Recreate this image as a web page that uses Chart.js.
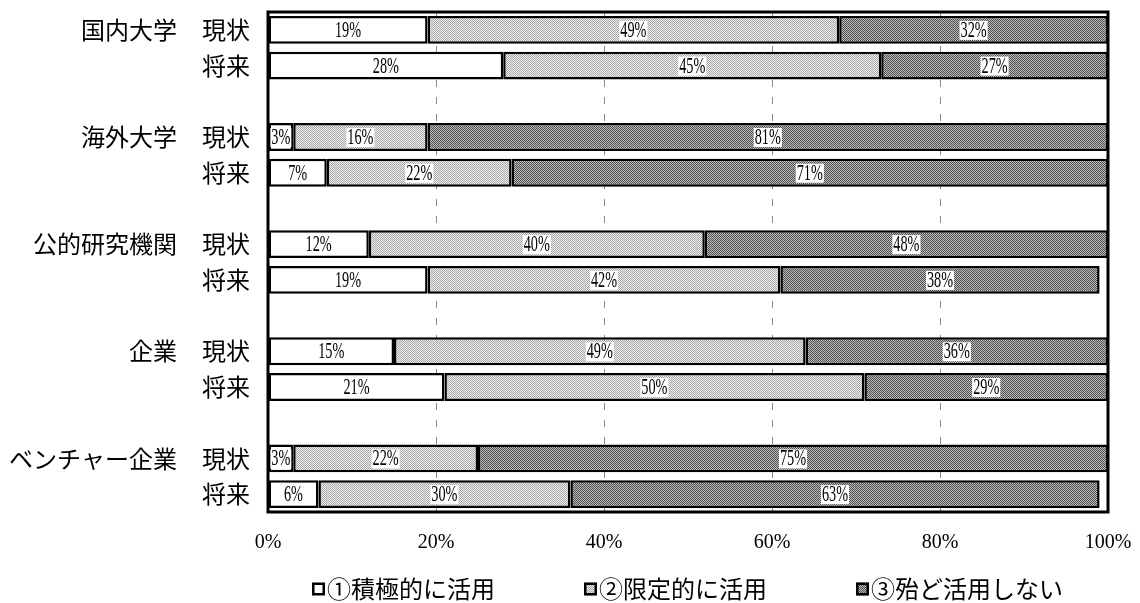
<!DOCTYPE html>
<html lang="ja">
<head>
<meta charset="utf-8">
<title>活用状況</title>
<script src="https://cdn.jsdelivr.net/npm/chart.js@4.4.1/dist/chart.umd.min.js"></script>
<style>
  html, body { margin: 0; padding: 0; background: #fff; }
  #wrap { width: 1140px; height: 603px; position: relative; }
</style>
</head>
<body>
<div id="wrap"><canvas id="chart" width="1140" height="603"></canvas></div>
<script>
// Organisations and the two time frames shown for each
const groups = ['国内大学', '海外大学', '公的研究機関', '企業', 'ベンチャー企業'];
const periods = ['現状', '将来'];

// Shares (%) per organisation, in the order 現状, 将来
const activeUse  = [19, 28,  3,  7, 12, 19, 15, 21,  3,  6];
const limitedUse = [49, 45, 16, 22, 40, 42, 49, 50, 22, 30];
const rarelyUse  = [32, 27, 81, 71, 48, 38, 36, 29, 75, 63];

const seriesNames = ['①積極的に活用', '②限定的に活用', '③殆ど活用しない'];
const xTicks = [0, 20, 40, 60, 80, 100];

// Build row lists with a blank spacer row between organisations
const rowLabels = [];
const groupLabels = [];
function withGaps(values) {
  const out = [];
  groups.forEach((g, gi) => {
    periods.forEach((p, pi) => out.push(values[gi * periods.length + pi]));
    if (gi < groups.length - 1) out.push(null);
  });
  return out;
}
groups.forEach((g, gi) => {
  periods.forEach((p, pi) => {
    rowLabels.push(p);
    groupLabels.push(pi === 0 ? g : '');
  });
  if (gi < groups.length - 1) { rowLabels.push(''); groupLabels.push(''); }
});

// Stippled fills
function stipple(a, b) {
  const c = document.createElement('canvas');
  c.width = 2; c.height = 2;
  const x = c.getContext('2d');
  x.fillStyle = a; x.fillRect(0, 0, 2, 2);
  x.fillStyle = b; x.fillRect(0, 0, 1, 1); x.fillRect(1, 1, 1, 1);
  return x.createPattern(c, 'repeat');
}
const ctx = document.getElementById('chart').getContext('2d');
const fills = ['#ffffff', stipple('#eeeeee', '#a8a8a8'), stipple('#bdbdbd', '#4e4e4e')];

const serif = '"Liberation Serif", "DejaVu Serif", serif';
const jp = '"Noto Sans CJK JP", "Noto Sans", sans-serif';

// Percent text in the middle of each segment, on a white patch
const segmentLabels = {
  id: 'segmentLabels',
  afterDatasetsDraw(chart) {
    const c = chart.ctx;
    c.save();
    c.font = '23px ' + serif;
    c.textBaseline = 'middle';
    c.textAlign = 'center';
    const sx = 0.62;
    chart.data.datasets.forEach((ds, di) => {
      const meta = chart.getDatasetMeta(di);
      meta.data.forEach((el, i) => {
        const v = ds.data[i];
        if (v == null) return;
        const p = el.getProps(['x', 'y', 'base'], true);
        const cx = (p.x + p.base) / 2;
        const txt = v + '%';
        const w = c.measureText(txt).width * sx;
        c.fillStyle = '#fff';
        c.fillRect(cx - w / 2 - 1, p.y - 9, w + 2, 19);
        c.save();
        c.translate(cx, p.y + 1);
        c.scale(sx, 1);
        c.fillStyle = '#000';
        c.fillText(txt, 0, 0);
        c.restore();
      });
    });
    c.restore();
  }
};

// Heavy frame round the plot area
const frame = {
  id: 'frame',
  afterDatasetsDraw(chart) {
    const a = chart.chartArea;
    const c = chart.ctx;
    c.save();
    c.strokeStyle = '#000';
    c.lineWidth = 3;
    c.strokeRect(a.left, a.top, a.right - a.left, a.bottom - a.top);
    c.restore();
  }
};

// Legend row beneath the axis
const legendRow = {
  id: 'legendRow',
  afterDraw(chart) {
    const c = chart.ctx;
    c.save();
    c.font = '24px ' + jp;
    c.textBaseline = 'middle';
    c.textAlign = 'left';
    const y = 589;
    const box = 13, gapText = 2, gapItem = 89;
    let x = 312;
    chart.data.datasets.forEach((ds) => {
      c.fillStyle = ds.backgroundColor;
      c.fillRect(x, y - box / 2, box, box);
      c.strokeStyle = '#000';
      c.lineWidth = 2.5;
      c.strokeRect(x + 1.25, y - box / 2 + 1.25, box - 2.5, box - 2.5);
      c.fillStyle = '#000';
      c.fillText(ds.label, x + box + gapText, y);
      x += box + gapText + c.measureText(ds.label).width + gapItem;
    });
    c.restore();
  }
};

const datasets = [activeUse, limitedUse, rarelyUse].map((vals, k) => ({
  label: seriesNames[k],
  data: withGaps(vals),
  backgroundColor: fills[k],
  borderColor: '#000',
  borderWidth: 2.5,
  borderSkipped: false,
  barPercentage: 0.78,
  categoryPercentage: 1.0,
  yAxisID: 'y'
}));

function noOverhangV(s, w) { s.width = w; s.paddingTop = 0; s.paddingBottom = 0; }

new Chart(ctx, {
  type: 'bar',
  data: { labels: rowLabels, datasets },
  options: {
    indexAxis: 'y',
    responsive: false,
    animation: false,
    layout: { padding: { top: 12, right: 32, left: 0, bottom: 0 } },
    plugins: { legend: { display: false }, tooltip: { enabled: false } },
    scales: {
      x: {
        stacked: true,
        min: 0, max: 100,
        afterBuildTicks(s) { s.ticks = xTicks.map(v => ({ value: v })); },
        ticks: {
          callback: v => v + '%',
          color: '#000',
          font: { family: serif, size: 20 },
          padding: 19,
          maxRotation: 0
        },
        grid: { color: '#8a8a8a', lineWidth: 1, drawTicks: false },
        border: { display: false, dash: [7, 10] },
        afterFit(s) { s.height = 91; s.paddingLeft = 0; s.paddingRight = 0; }
      },
      y: {
        stacked: true,
        offset: true,
        weight: 0,
        ticks: { color: '#000', font: { family: jp, size: 24 }, padding: 18, autoSkip: false },
        grid: { display: false, drawTicks: false },
        border: { display: false },
        afterFit(s) { noOverhangV(s, 78); }
      },
      yg: {
        type: 'category',
        position: 'left',
        labels: groupLabels,
        offset: true,
        weight: 1,
        ticks: { color: '#000', font: { family: jp, size: 24 }, padding: 13, autoSkip: false },
        grid: { display: false, drawTicks: false },
        border: { display: false },
        afterFit(s) { noOverhangV(s, 190); }
      }
    }
  },
  plugins: [segmentLabels, frame, legendRow]
});
</script>
</body>
</html>
